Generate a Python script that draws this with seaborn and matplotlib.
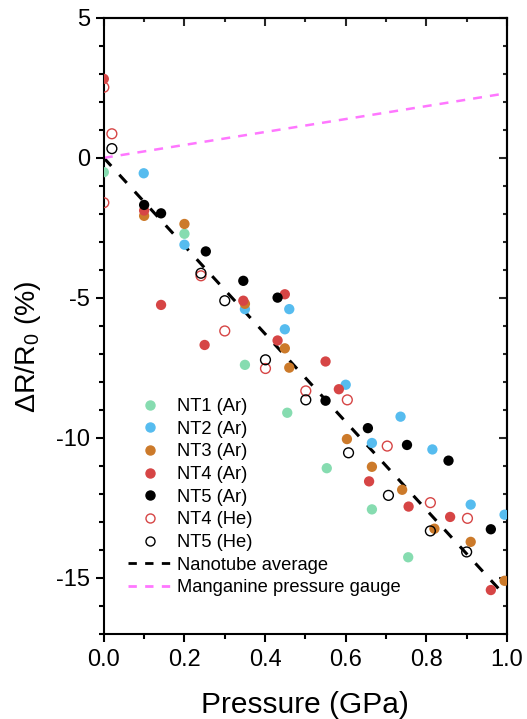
import matplotlib
matplotlib.use("Agg")
import matplotlib.pyplot as plt
from matplotlib.ticker import MultipleLocator
from matplotlib.lines import Line2D
import seaborn as sns
import numpy as np
import pandas as pd

# ---- data ----
nt1_x = [0.0, 0.2, 0.35, 0.455, 0.553, 0.665, 0.755]
nt1_y = [-0.51, -2.71, -7.39, -9.1, -11.08, -12.55, -14.26]

nt2_x = [0.099, 0.2, 0.35, 0.449, 0.46, 0.6, 0.665, 0.736, 0.815, 0.91, 0.994]
nt2_y = [-0.55, -3.1, -5.4, -6.12, -5.4, -8.1, -10.18, -9.24, -10.41, -12.38, -12.74]

nt3_x = [0.1, 0.2, 0.35, 0.449, 0.46, 0.603, 0.665, 0.74, 0.82, 0.91, 0.994]
nt3_y = [-2.07, -2.36, -5.21, -6.8, -7.49, -10.04, -11.03, -11.85, -13.24, -13.71, -15.1]

nt4ar_x = [0.0, 0.1, 0.142, 0.25, 0.346, 0.431, 0.449, 0.55, 0.583, 0.658, 0.756, 0.859, 0.96]
nt4ar_y = [2.82, -1.88, -5.25, -6.68, -5.1, -6.52, -4.87, -7.27, -8.26, -11.55, -12.45, -12.82, -15.43]

nt5ar_x = [0.1, 0.142, 0.253, 0.346, 0.431, 0.55, 0.655, 0.752, 0.855, 0.96]
nt5ar_y = [-1.68, -1.98, -3.34, -4.39, -4.99, -8.67, -9.65, -10.25, -10.81, -13.26]

nt4he_x = [0.0, 0.02, 0.0, 0.241, 0.3, 0.401, 0.501, 0.604, 0.703, 0.81, 0.902]
nt4he_y = [2.52, 0.86, -1.6, -4.21, -6.18, -7.52, -8.32, -8.64, -10.29, -12.31, -12.87]

nt5he_x = [0.02, 0.241, 0.3, 0.401, 0.501, 0.607, 0.706, 0.81, 0.9]
nt5he_y = [0.33, -4.12, -5.1, -7.21, -8.64, -10.53, -12.05, -13.32, -14.07]

avg_x = [0.0, 0.99]
avg_y = [0.0, -15.55]
mang_x = [0.0, 1.0]
mang_y = [0.0, 2.31]

labels = ["NT1 (Ar)", "NT2 (Ar)", "NT3 (Ar)", "NT4 (Ar)", "NT5 (Ar)", "NT4 (He)", "NT5 (He)"]

# ---- style ----
sns.set_theme(style="ticks")
plt.rcParams["font.family"] = ["Liberation Sans", "DejaVu Sans"]
plt.rcParams["axes.unicode_minus"] = False
plt.rcParams["mathtext.default"] = "regular"

fig = plt.figure(figsize=(5.27, 7.19), dpi=100)
ax = fig.add_axes([0.197, 0.1182, 0.765, 0.857])

series = [
    (nt1_x, nt1_y, "#86dcb0", True),
    (nt2_x, nt2_y, "#56bcef", True),
    (nt3_x, nt3_y, "#cc7a2a", True),
    (nt4ar_x, nt4ar_y, "#d64545", True),
    (nt5ar_x, nt5ar_y, "#000000", True),
    (nt4he_x, nt4he_y, "#d64545", False),
    (nt5he_x, nt5he_y, "#000000", False),
]

handles = []
for (xs, ys, c, filled), lab in zip(series, labels):
    df = pd.DataFrame({"x": xs, "y": ys})
    if filled:
        sns.scatterplot(data=df, x="x", y="y", ax=ax, color=c, s=55,
                        linewidth=0, edgecolor="none", legend=False, zorder=3)
        handles.append(Line2D([], [], ls="none", marker="o", markersize=6.5,
                              markerfacecolor=c, markeredgecolor=c, label=lab))
    else:
        sns.scatterplot(data=df, x="x", y="y", ax=ax, s=50, legend=False,
                        facecolors="none", edgecolor=c, linewidth=1.0, zorder=3)
        handles.append(Line2D([], [], ls="none", marker="o", markersize=6.5,
                              markerfacecolor="none", markeredgecolor=c,
                              markeredgewidth=1.0, label=lab))

BLACK_DASH = [3.6, 3.9]
MAG_DASH = [3.6, 3.2]
sns.lineplot(x=avg_x, y=avg_y, ax=ax, color="black", lw=2.2, legend=False,
             zorder=2)
ax.lines[-1].set_dashes(BLACK_DASH)
sns.lineplot(x=mang_x, y=mang_y, ax=ax, color="#ff77ff", lw=1.8, legend=False,
             zorder=2)
ax.lines[-1].set_dashes(MAG_DASH)

handles.append(Line2D([], [], color="black", lw=2.0, dashes=[3.0, 3.0],
                      label="Nanotube average"))
handles.append(Line2D([], [], color="#ff77ff", lw=2.0, dashes=[3.0, 3.0],
                      label="Manganine pressure gauge"))

ax.set_xlim(0, 1.0)
ax.set_ylim(-17, 5)
ax.xaxis.set_major_locator(MultipleLocator(0.2))
ax.xaxis.set_minor_locator(MultipleLocator(0.1))
ax.yaxis.set_major_locator(MultipleLocator(5))
ax.yaxis.set_minor_locator(MultipleLocator(1))
ax.set_xticks(np.arange(0, 1.01, 0.2))
ax.set_xticklabels(["0.0", "0.2", "0.4", "0.6", "0.8", "1.0"])

for sp in ax.spines.values():
    sp.set_visible(True)
    sp.set_linewidth(1.5)
    sp.set_color("black")

ax.tick_params(axis="both", which="major", direction="out", length=6,
               width=1.5, labelsize=17, colors="black", pad=4)
ax.tick_params(axis="both", which="minor", direction="out", length=3.5,
               width=1.5, colors="black")
ax.tick_params(axis="x", which="major", pad=5)

secx = ax.secondary_xaxis("top")
secx.xaxis.set_major_locator(MultipleLocator(0.2))
secx.xaxis.set_minor_locator(MultipleLocator(0.1))
secx.tick_params(axis="x", which="major", direction="in", length=5.5, width=1.5,
                 labeltop=False)
secx.tick_params(axis="x", which="minor", direction="in", length=3.2, width=1.5)
secx.spines["top"].set_linewidth(1.5)

secy = ax.secondary_yaxis("right")
secy.yaxis.set_major_locator(MultipleLocator(5))
secy.yaxis.set_minor_locator(MultipleLocator(1))
secy.tick_params(axis="y", which="major", direction="in", length=5.5, width=1.5,
                 labelright=False)
secy.tick_params(axis="y", which="minor", direction="in", length=3.2, width=1.5)
secy.spines["right"].set_linewidth(1.5)

ax.set_xlabel("Pressure (GPa)", fontsize=21.5, color="black")
ax.set_ylabel("ΔR/R$_0$ (%)", fontsize=20.5, color="black")
ax.yaxis.set_label_coords(-0.15, 0.466)
ax.xaxis.set_label_coords(0.5, -0.092)

leg = ax.legend(handles=handles, loc="upper left",
                bbox_to_anchor=(0.06, 0.383), frameon=False, fontsize=13.2,
                handlelength=2.35, handletextpad=0.33, labelspacing=0.31,
                borderpad=0, borderaxespad=0)
for t in leg.get_texts():
    t.set_color("black")

fig.savefig("out.png", dpi=100)
